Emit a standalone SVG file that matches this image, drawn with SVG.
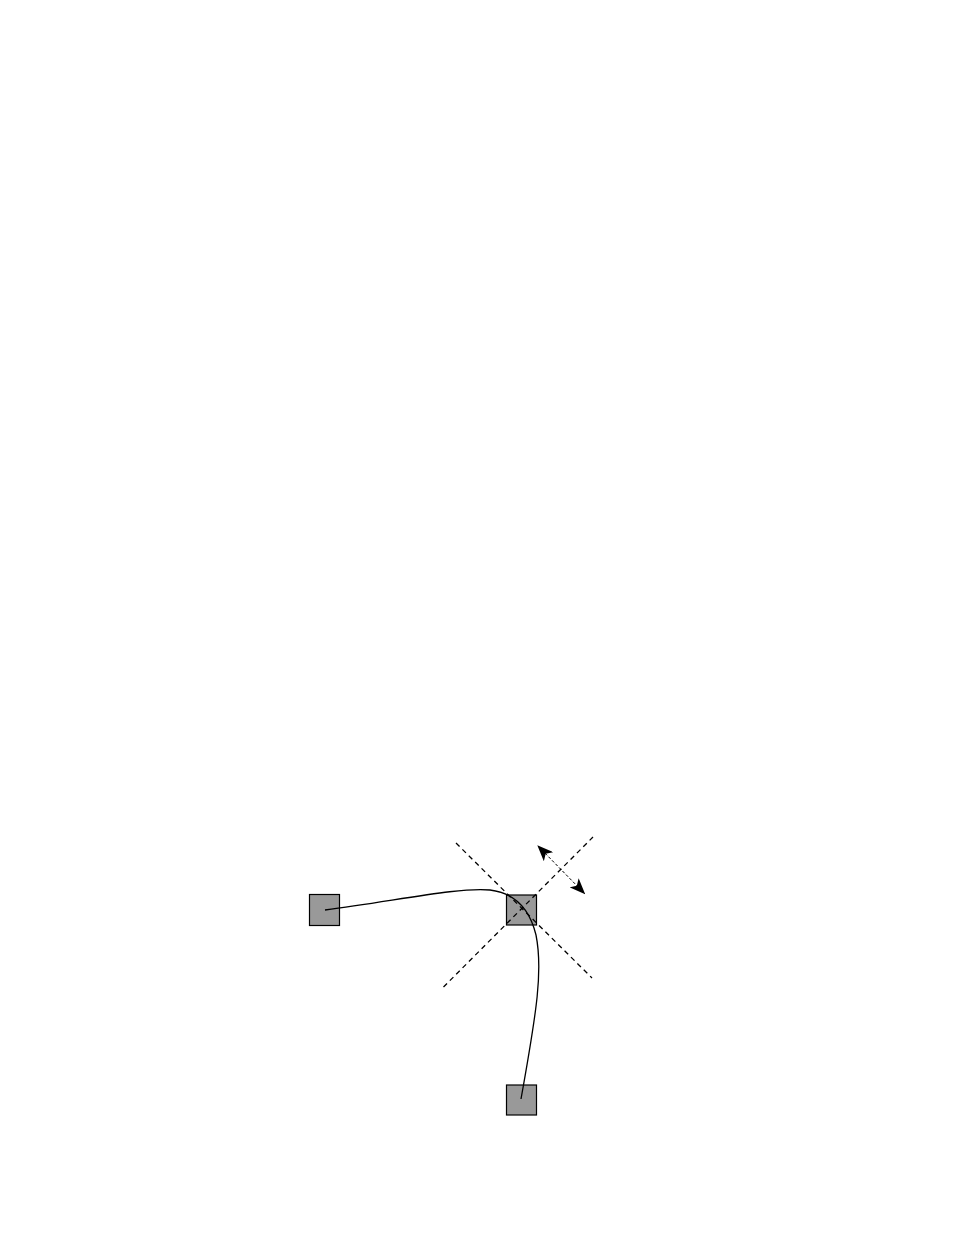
<svg xmlns="http://www.w3.org/2000/svg" width="954" height="1235" viewBox="0 0 954 1235">
<style>
.node{fill:#999999;stroke:#000000;stroke-width:1.2}
.curve{fill:none;stroke:#000000;stroke-width:1.3}
.dash{fill:none;stroke:#000000;stroke-width:1.3;stroke-dasharray:5,4}
.arrow{fill:none;stroke:#000000;stroke-width:1;stroke-dasharray:3,2}
</style>
<defs>
<marker id="ah" viewBox="0 0 16 13" refX="15" refY="6.5" markerWidth="16" markerHeight="13" markerUnits="userSpaceOnUse" orient="auto-start-reverse">
<path d="M0,0 L16,6.5 L0,13 L4,6.5 Z" fill="#000000"/>
</marker>
</defs>
<rect width="954" height="1235" fill="#ffffff"/>
<g id="node-left"><rect class="node" x="309.5" y="894.5" width="30" height="31"/></g>
<g id="node-center"><rect class="node" x="506.5" y="895" width="30" height="30"/></g>
<g id="node-bottom"><rect class="node" x="506.5" y="1085" width="30" height="30"/></g>
<g id="connectors">
<path class="curve" d="M325,910 C400,900 460,887 490,890 C515,893 530,910 536,935 C543,970 537,1010 521,1099"/>
<line class="dash" x1="456" y1="843" x2="592" y2="978"/>
<line class="dash" x1="443.5" y1="987" x2="593" y2="837"/>
<line class="arrow" x1="538" y1="846" x2="584.5" y2="893.5" marker-start="url(#ah)" marker-end="url(#ah)"/>
</g>
</svg>
